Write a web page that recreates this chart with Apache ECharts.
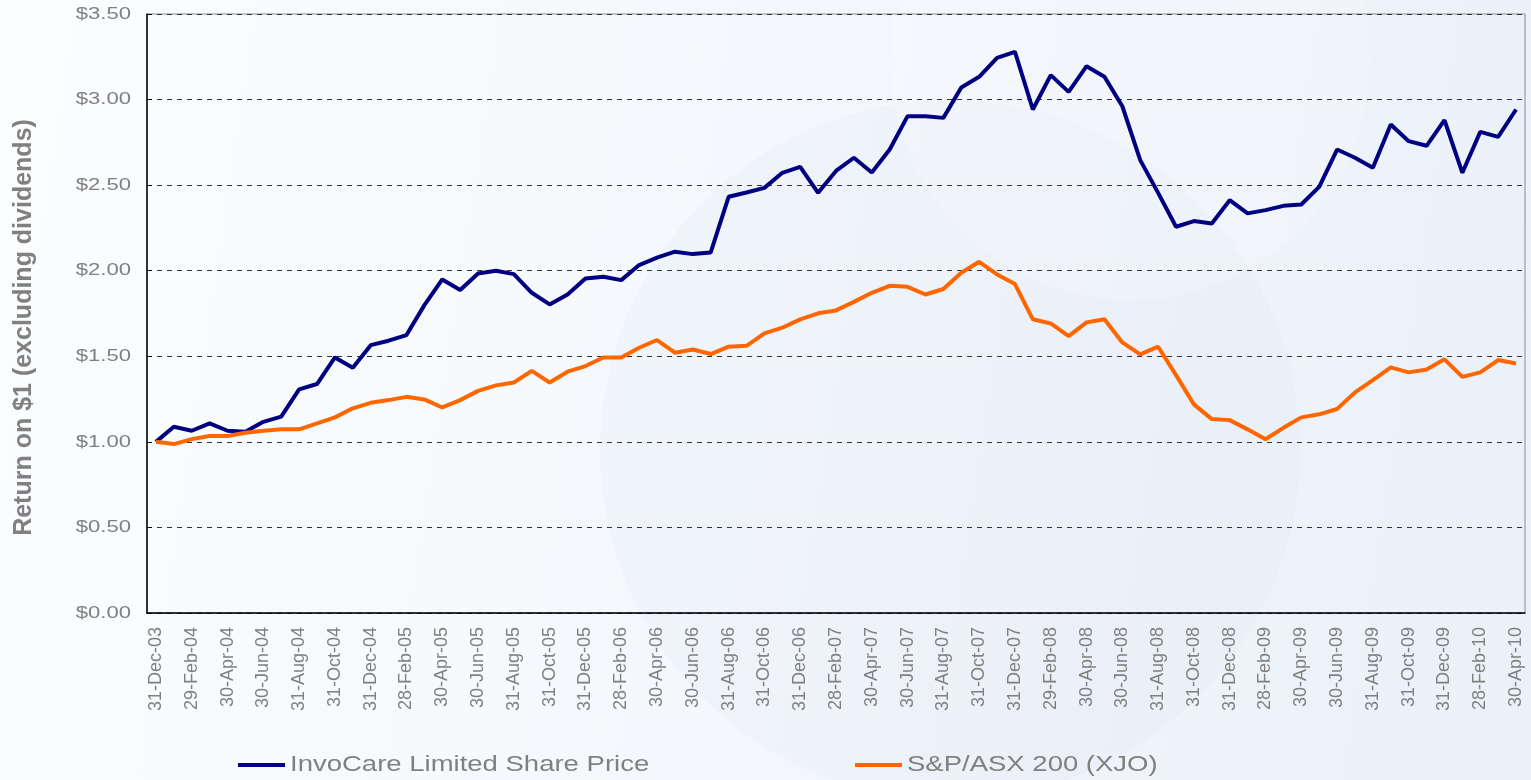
<!DOCTYPE html>
<html>
<head>
<meta charset="utf-8">
<script src="https://cdn.jsdelivr.net/npm/echarts@6/dist/echarts.min.js"></script>
<style>
html,body{margin:0;padding:0;width:1531px;height:780px;overflow:hidden;}
#chart{width:1531px;height:780px;}
</style>
</head>
<body>
<div id="chart"></div>
<script>
var categories = [
"31-Dec-03",
"31-Jan-04","29-Feb-04","31-Mar-04","30-Apr-04","31-May-04","30-Jun-04","31-Jul-04","31-Aug-04","30-Sep-04","31-Oct-04","30-Nov-04","31-Dec-04",
"31-Jan-05","28-Feb-05","31-Mar-05","30-Apr-05","31-May-05","30-Jun-05","31-Jul-05","31-Aug-05","30-Sep-05","31-Oct-05","30-Nov-05","31-Dec-05",
"31-Jan-06","28-Feb-06","31-Mar-06","30-Apr-06","31-May-06","30-Jun-06","31-Jul-06","31-Aug-06","30-Sep-06","31-Oct-06","30-Nov-06","31-Dec-06",
"31-Jan-07","28-Feb-07","31-Mar-07","30-Apr-07","31-May-07","30-Jun-07","31-Jul-07","31-Aug-07","30-Sep-07","31-Oct-07","30-Nov-07","31-Dec-07",
"31-Jan-08","29-Feb-08","31-Mar-08","30-Apr-08","31-May-08","30-Jun-08","31-Jul-08","31-Aug-08","30-Sep-08","31-Oct-08","30-Nov-08","31-Dec-08",
"31-Jan-09","28-Feb-09","31-Mar-09","30-Apr-09","31-May-09","30-Jun-09","31-Jul-09","31-Aug-09","30-Sep-09","31-Oct-09","30-Nov-09","31-Dec-09",
"31-Jan-10","28-Feb-10","31-Mar-10","30-Apr-10"
];

var invocare = [
1.00,
1.088,1.065,1.108,1.065,1.059,1.117,1.147,1.307,1.338,1.493,1.433,1.565,
1.591,1.624,1.799,1.949,1.887,1.984,2.000,1.980,1.871,1.803,1.861,1.955,
1.965,1.945,2.033,2.076,2.111,2.097,2.107,2.432,2.457,2.484,2.572,2.607,
2.455,2.583,2.660,2.574,2.708,2.903,2.903,2.893,3.071,3.133,3.244,3.279,
2.942,3.143,3.045,3.195,3.133,2.961,2.646,2.455,2.257,2.290,2.276,2.412,
2.335,2.354,2.379,2.387,2.490,2.708,2.660,2.601,2.854,2.757,2.730,2.880,
2.572,2.811,2.782,2.942
];

var asx200 = [
1.00,
0.987,1.016,1.034,1.034,1.053,1.065,1.073,1.073,1.108,1.143,1.196,1.228,
1.244,1.263,1.248,1.201,1.244,1.298,1.330,1.347,1.415,1.347,1.410,1.443,
1.493,1.493,1.550,1.595,1.521,1.540,1.513,1.556,1.561,1.634,1.667,1.716,
1.751,1.768,1.818,1.871,1.912,1.906,1.861,1.893,1.988,2.052,1.978,1.922,
1.716,1.692,1.618,1.698,1.716,1.581,1.511,1.556,1.390,1.219,1.133,1.127,
1.073,1.015,1.082,1.143,1.161,1.192,1.289,1.361,1.435,1.406,1.423,1.482,
1.380,1.406,1.478,1.458
];

var seriesNames = ["InvoCare Limited Share Price", "S&P/ASX 200 (XJO)"];
var seriesColors = ["#000080", "#ff6600"];
var yTicks = [0, 0.5, 1, 1.5, 2, 2.5, 3, 3.5];

var chart = echarts.init(document.getElementById('chart'));
var font = 'Arial, "Liberation Sans", sans-serif';
var option = {
  backgroundColor: {
    type: 'linear', x: 0, y: 0, x2: 1, y2: 0.3,
    colorStops: [{offset: 0, color: '#fbfdff'}, {offset: 0.5, color: '#f4f8fc'}, {offset: 1, color: '#ebf1f9'}]
  },
  animation: false,
  grid: {left: 147, right: 6, top: 14, bottom: 167, show: true, borderColor: '#8a8a8a', borderWidth: 1, backgroundColor: 'transparent'},
  xAxis: {
    type: 'category',
    data: categories,
    boundaryGap: true,
    axisLine: {lineStyle: {color: '#000', width: 1.5}},
    axisTick: {show: false},
    axisLabel: {rotate: 90, interval: 1, fontFamily: font, fontSize: 18, color: '#808080', margin: 14}
  },
  yAxis: {
    type: 'value',
    min: yTicks[0], max: yTicks[yTicks.length - 1], interval: 0.5,
    name: 'Return on $1 (excluding dividends)',
    nameLocation: 'middle', nameGap: 110, nameRotate: 90,
    nameTextStyle: {fontFamily: font, fontSize: 25, fontWeight: 'bold', color: '#808080', padding: [0, 28, 0, 0]},
    axisLine: {show: true, lineStyle: {color: '#000', width: 1.5}},
    axisTick: {show: true, inside: true, length: 5, lineStyle: {color: '#000'}},
    axisLabel: {show: false},
    splitLine: {show: true, lineStyle: {color: '#333', type: [5, 5], width: 1}}
  },
  series: [
    {name: seriesNames[0], type: 'line', data: invocare, symbol: 'none',
     lineStyle: {color: seriesColors[0], width: 4}, itemStyle: {color: seriesColors[0]}},
    {name: seriesNames[1], type: 'line', data: asx200, symbol: 'none',
     lineStyle: {color: seriesColors[1], width: 4}, itemStyle: {color: seriesColors[1]}}
  ]
};
chart.setOption(option);

// Decorations, stretched y-axis labels (positioned by the axis scale) and legend
var gfx = [
  {type: 'circle', shape: {cx: 950, cy: 450, r: 350}, style: {fill: 'rgba(190,205,235,0.08)'}, silent: true, z: -10},
  {type: 'circle', shape: {cx: 1130, cy: 60, r: 240}, style: {fill: 'rgba(255,255,255,0.18)'}, silent: true, z: -10}
];
yTicks.forEach(function (v) {
  var py = chart.convertToPixel({yAxisIndex: 0}, v);
  gfx.push({type: 'text', x: 131, y: py, scaleX: 1.3, silent: true, z: 10,
    style: {text: '$' + v.toFixed(2), font: '17px ' + font, fill: '#808080', align: 'right', verticalAlign: 'middle'}});
});
var legendX = [238, 855];
seriesNames.forEach(function (name, i) {
  gfx.push({type: 'rect', shape: {x: legendX[i], y: 763, width: 47, height: 4}, style: {fill: seriesColors[i]}, silent: true, z: 10});
  gfx.push({type: 'text', x: legendX[i] + 52, y: 765, scaleX: 1.25, silent: true, z: 10,
    style: {text: name, font: '22px ' + font, fill: '#808080', align: 'left', verticalAlign: 'middle'}});
});
chart.setOption({graphic: gfx});
</script>
</body>
</html>
